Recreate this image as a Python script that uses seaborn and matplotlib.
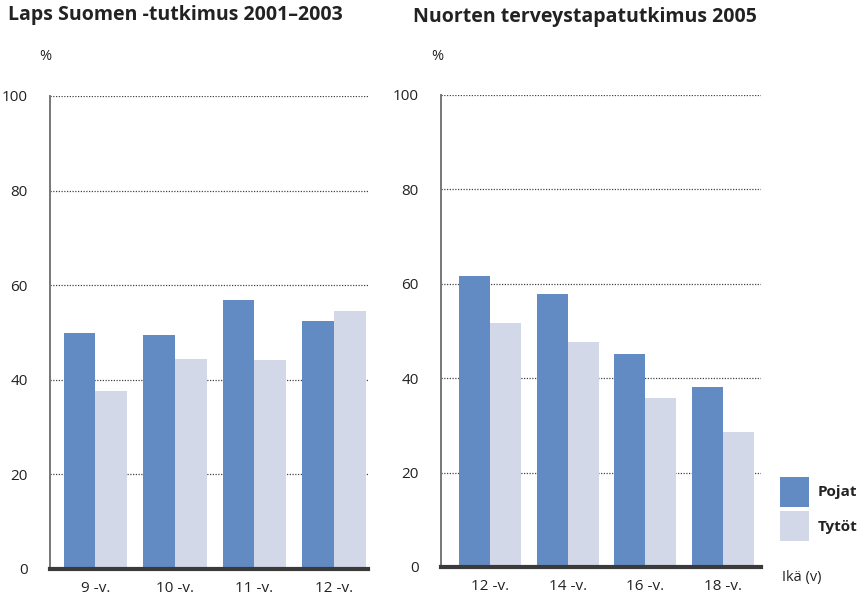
import numpy as np
import pandas as pd
import matplotlib.pyplot as plt
from matplotlib.patches import Patch
import seaborn as sns

# ==================================================
# Data
# ==================================================
ika_laps = ['9 -v.', '10 -v.', '11 -v.', '12 -v.']
pojat_laps = [50.0, 49.5, 56.8, 52.5]
tytot_laps = [37.7, 44.4, 44.1, 54.6]

ika_nuoret = ['12 -v.', '14 -v.', '16 -v.', '18 -v.']
pojat_nuoret = [61.7, 57.8, 45.1, 38.2]
tytot_nuoret = [51.8, 47.6, 35.9, 28.5]

sukupuolet = ['Pojat', 'Tytöt']
varit = {'Pojat': '#628bc4', 'Tytöt': '#d2d8e8'}
yticks = [0, 20, 40, 60, 80, 100]


def pitka_taulu(ika, pojat, tytot):
    return pd.DataFrame({
        'Ikä': ika * 2,
        'Sukupuoli': ['Pojat'] * len(ika) + ['Tytöt'] * len(ika),
        'Osuus': list(pojat) + list(tytot),
    })


sns.set_style('white')
plt.rcParams['font.family'] = ['Open Sans', 'DejaVu Sans']

fig = plt.figure(figsize=(8.6, 5.99), dpi=100)
W, H = 860, 599


def px_axes(x0, x1, ytop, ybot):
    return fig.add_axes([x0 / W, 1 - ybot / H, (x1 - x0) / W, (ybot - ytop) / H])


ax1 = px_axes(50, 368, 96, 569)
ax2 = px_axes(441, 761, 95, 567)

paneelit = [
    (ax1, pitka_taulu(ika_laps, pojat_laps, tytot_laps), (-0.57, 3.43)),
    (ax2, pitka_taulu(ika_nuoret, pojat_nuoret, tytot_nuoret), (-0.63, 3.49)),
]

for ax, df, xlim in paneelit:
    sns.barplot(data=df, x='Ikä', y='Osuus', hue='Sukupuoli', hue_order=sukupuolet,
                palette=varit, width=0.8, saturation=1, legend=False, ax=ax,
                edgecolor='none')
    ax.set_ylim(0, 100)
    ax.set_xlim(*xlim)
    ax.set_yticks(yticks)
    ax.set_xlabel('')
    ax.set_ylabel('')
    for y in yticks[1:]:
        ax.axhline(y, color='#444444', lw=0.9, ls=(0, (1, 1.2)), zorder=0)
    ax.tick_params(axis='y', length=0, pad=16, labelsize=11, labelcolor='#222222')
    ax.tick_params(axis='x', length=0, pad=9, labelsize=11, labelcolor='#222222')
    for s in ['top', 'right']:
        ax.spines[s].set_visible(False)
    ax.spines['left'].set_color('#777777')
    ax.spines['left'].set_linewidth(1.4)
    ax.spines['bottom'].set_color('#3a3a3a')
    ax.spines['bottom'].set_linewidth(3)

# Titles and unit labels
fig.text(8 / W, 1 - 15 / H, 'Laps Suomen -tutkimus 2001–2003', fontsize=14,
         fontweight='bold', va='center', ha='left', color='#222222')
fig.text(413 / W, 1 - 17 / H, 'Nuorten terveystapatutkimus 2005', fontsize=14,
         fontweight='bold', va='center', ha='left', color='#222222')
fig.text(45 / W, 1 - 57 / H, '%', fontsize=10.5, va='center', ha='center', color='#222222')
fig.text(437 / W, 1 - 57 / H, '%', fontsize=10.5, va='center', ha='center', color='#222222')

# Legend
kahvat = [Patch(facecolor=varit[s], edgecolor='none') for s in sukupuolet]
leg = fig.legend(kahvat, sukupuolet, loc='upper left',
                 bbox_to_anchor=(780 / W, 1 - 477 / H), frameon=False,
                 borderaxespad=0, borderpad=0,
                 handlelength=1.9, handleheight=2.6, handletextpad=0.55,
                 labelspacing=0.3, prop={'weight': 'bold', 'size': 11})
for t in leg.get_texts():
    t.set_color('#222222')
fig.text(782 / W, 1 - 577 / H, 'Ikä (v)', fontsize=10.5, va='center', ha='left',
         color='#222222')

fig.savefig('out.png', dpi=100)
